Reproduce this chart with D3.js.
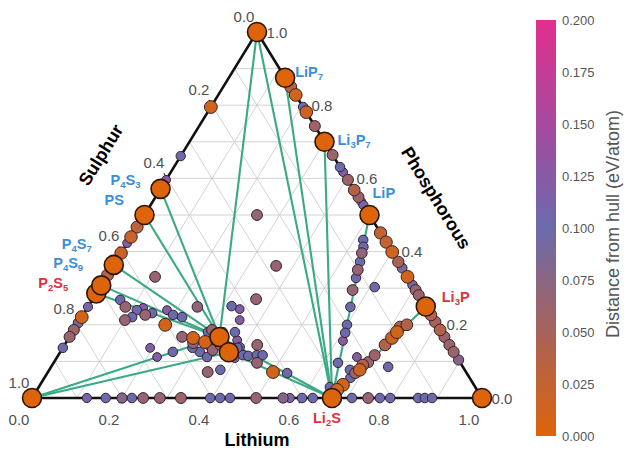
<!DOCTYPE html>
<html lang="en">
<head>
<meta charset="UTF-8">
<title>Li-P-S phase diagram</title>
<script src="https://cdnjs.cloudflare.com/ajax/libs/d3/7.8.5/d3.min.js"></script>
<style>
    html, body { margin: 0; padding: 0; background: #fff; }
    svg { display: block; font-family: "Liberation Sans", Arial, sans-serif; }
</style>
</head>
<body>
<div id="chart"></div>
<script>
// compositions are [Li, P] fractions, S = 1 - Li - P

// phases on the hull
const stableNames = ["P", "LiP7", "Li3P7", "LiP", "Li3P", "Li", "Li2S", "S", "P2S5", "P4S9", "P4S7", "PS", "P4S3", "Li4P2S6", "Li3PS4"];
const stableLi = [0, 0.125, 0.3, 0.5, 0.75, 1, 0.6667, 0, 0, 0, 0, 0, 0, 0.3333, 0.375];
const stableP  = [1, 0.875, 0.7, 0.5, 0.25, 0, 0, 0, 0.2857, 0.3077, 0.3636, 0.5, 0.5714, 0.1667, 0.125];

// tie lines between hull phases
const tieLines = [
    ["P", "Li4P2S6"], ["P", "Li2S"], ["LiP7", "Li2S"], ["Li3P7", "Li2S"], ["LiP", "Li2S"], ["Li3P", "Li2S"],
    ["P4S3", "Li4P2S6"], ["PS", "Li4P2S6"], ["P4S7", "Li4P2S6"], ["P4S9", "Li4P2S6"], ["P2S5", "Li4P2S6"],
    ["S", "Li4P2S6"], ["S", "Li3PS4"], ["Li4P2S6", "Li2S"], ["Li3PS4", "Li2S"], ["Li4P2S6", "Li3PS4"]
];

// S-P edge (Li = 0): P fraction and distance from hull
const spEdgeP = [0.795, 0.661, 0.596, 0.467, 0.44, 0.423, 0.396, 0.336, 0.249, 0.221, 0.205, 0.186, 0.167, 0.137];
const spEdgeE = [0.012, 0.105, 0.12, 0.03, 0.02, 0.12, 0.02, 0.035, 0.11, 0.01, 0.09, 0.06, 0.06, 0.1];

// Li-P edge (S = 0)
const lpEdgeP = [0.85, 0.828, 0.795, 0.781, 0.743, 0.664, 0.631, 0.617, 0.596, 0.568, 0.549, 0.536, 0.527,
    0.451, 0.426, 0.399, 0.372, 0.355, 0.331, 0.309, 0.295, 0.281, 0.227, 0.208, 0.186, 0.167, 0.145, 0.126, 0.104];
const lpEdgeE = [0.035, 0.012, 0.1, 0.015, 0.06, 0.06, 0.1, 0.12, 0.06, 0.04, 0.06, 0.12, 0.11,
    0.025, 0.025, 0.012, 0.05, 0.09, 0.012, 0.1, 0.06, 0.06, 0.04, 0.05, 0.04, 0.06, 0.06, 0.06, 0.08];

// Li-S edge (P = 0): Li fraction
const lsEdgeLi = [0.122, 0.164, 0.2, 0.222, 0.247, 0.284, 0.331, 0.396, 0.418, 0.44, 0.498, 0.558, 0.573,
    0.6, 0.624, 0.711, 0.747, 0.773, 0.796, 0.858, 0.873, 0.889];
const lsEdgeE = [0.11, 0.1, 0.08, 0.1, 0.065, 0.065, 0.06, 0.1, 0.1, 0.1, 0.065, 0.08, 0.11,
    0.1, 0.1, 0.1, 0.065, 0.1, 0.1, 0.1, 0.1, 0.1];

// ternary interior
const innerLi = [0.667, 0.673, 0.68, 0.684, 0.69, 0.69, 0.698, 0.703, 0.712, 0.718, 0.721, 0.721, 0.733,
    0.647, 0.632, 0.668, 0.666, 0.749, 0.61,
    0.52, 0.53, 0.535, 0.543, 0.549, 0.556, 0.565, 0.583, 0.6, 0.607, 0.613,
    0.25, 0.362, 0.363,
    0.108, 0.062, 0.083, 0.113, 0.124, 0.138, 0.151, 0.1, 0.112, 0.18, 0.2, 0.223, 0.196, 0.243, 0.25, 0.194, 0.222, 0.25, 0.283,
    0.318, 0.34, 0.355, 0.301, 0.361, 0.377, 0.392, 0.41, 0.423, 0.441, 0.454, 0.428, 0.452, 0.5, 0.533, 0.355, 0.38,
    0.31, 0.333, 0.276, 0.308, 0.288, 0.319, 0.336, 0.346, 0.396, 0.388, 0.307, 0.334];
const innerP = [0.022, 0.036, 0.055, 0.068, 0.077, 0.09, 0.098, 0.117, 0.145, 0.164, 0.18, 0.194, 0.2,
    0.03, 0.096, 0.077, 0.112, 0.085, 0.303,
    0.432, 0.413, 0.396, 0.372, 0.35, 0.328, 0.295, 0.249, 0.2, 0.178, 0.156,
    0.5, 0.361, 0.27,
    0.331, 0.268, 0.249, 0.24, 0.246, 0.227, 0.232, 0.213, 0.221, 0.24, 0.227, 0.221, 0.2, 0.249, 0.167, 0.137, 0.112, 0.126, 0.15,
    0.251, 0.243, 0.213, 0.18, 0.18, 0.158, 0.139, 0.117, 0.115, 0.117, 0.117, 0.145, 0.096, 0.071, 0.068, 0.071, 0.077,
    0.126, 0.112, 0.164, 0.153, 0.137, 0.145, 0.131, 0.145, 0.109, 0.137, 0.186, 0.18];
const innerE = [0.008, 0.01, 0.1, 0.06, 0.015, 0.04, 0.06, 0.06, 0.04, 0.015, 0.01, 0.04, 0.04,
    0.1, 0.1, 0.1, 0.12, 0.1, 0.1,
    0.1, 0.1, 0.07, 0.1, 0.065, 0.1, 0.065, 0.1, 0.1, 0.1, 0.12,
    0.065, 0.065, 0.065,
    0.065, 0.1, 0.065, 0.1, 0.12, 0.065, 0.1, 0.065, 0.1, 0.12, 0.1, 0.1, 0.01, 0.07, 0.065, 0.12, 0.12, 0.1, 0.065,
    0.1, 0.12, 0.12, 0.1, 0.1, 0.12, 0.1, 0.1, 0.1, 0.1, 0.1, 0.065, 0.065, 0.01, 0.1, 0.065, 0.1,
    0.1, 0.1, 0.01, 0.01, 0.1, 0.1, 0.065, 0.065, 0.12, 0.1, 0.065, 0.1];

// labelled phases
const blueLabels = ["LiP7", "Li3P7", "LiP", "P4S3", "PS", "P4S7", "P4S9"];
const redLabels = ["Li3P", "Li2S", "P2S5"];

const axisTicks = [0, 0.2, 0.4, 0.6, 0.8, 1.0];
const hullTicks = [0, 0.025, 0.05, 0.075, 0.1, 0.125, 0.15, 0.175, 0.2];

// ---- layout ----
const W = 633, H = 459;
const svg = d3.select("#chart").append("svg").attr("width", W).attr("height", H);

const x = d3.scaleLinear().domain([0, 1]).range([32, 482]);
const y = d3.scaleLinear().domain([0, 1]).range([398, 32]);
const px = (li, p) => x(li + p / 2);
const py = (li, p) => y(p);

const color = d3.scaleLinear()
    .domain([0, 0.05, 0.1, 0.15, 0.2])
    .range(["#dd640a", "#a8625a", "#6b6aac", "#a64a9e", "#e22e8c"])
    .clamp(true);
const radius = d3.scaleLinear().domain([0, 0.12]).range([6.6, 4.4]).clamp(true);

const stable = {};
stableNames.forEach((n, i) => stable[n] = [stableLi[i], stableP[i]]);

// grid
const grid = svg.append("g").attr("stroke", "#cdcdcd").attr("stroke-width", 0.9);
d3.range(1, 10).map(k => k / 10).forEach(v => {
    [[[0, v], [1 - v, v]], [[v, 0], [v, 1 - v]], [[1 - v, 0], [0, 1 - v]]].forEach(([a, b]) => {
        grid.append("line")
            .attr("x1", px(...a)).attr("y1", py(...a))
            .attr("x2", px(...b)).attr("y2", py(...b));
    });
});

// triangle
const corners = [[0, 1], [0, 0], [1, 0]];
svg.append("path")
    .attr("d", "M" + corners.map(c => px(...c) + "," + py(...c)).join("L") + "Z")
    .attr("fill", "none").attr("stroke", "#111").attr("stroke-width", 2.6)
    .attr("stroke-linejoin", "round");

// ticks + tick labels
const tickG = svg.append("g").attr("font-size", 15).attr("fill", "#505050").attr("text-anchor", "middle");
const axes = [
    { at: v => [v, 0], dir: [-0.52, 0.85], off: [-13, 21] },      // lithium, bottom
    { at: v => [0, 1 - v], dir: [-0.52, -0.85], off: [-13, -16] }, // sulphur, left
    { at: v => [1 - v, v], dir: [1, 0], off: [20, 0] }             // phosphorous, right
];
axes.forEach(a => {
    axisTicks.forEach(v => {
        const c = a.at(v), cx = px(...c), cy = py(...c);
        tickG.append("line")
            .attr("x1", cx).attr("y1", cy)
            .attr("x2", cx + a.dir[0] * 6).attr("y2", cy + a.dir[1] * 6)
            .attr("stroke", "#333").attr("stroke-width", 1.2);
        tickG.append("text")
            .attr("x", cx + a.off[0]).attr("y", cy + a.off[1])
            .attr("dominant-baseline", "central")
            .text(v.toFixed(1));
    });
});

// tie lines
svg.append("g").selectAll("line").data(tieLines).enter().append("line")
    .attr("x1", d => px(...stable[d[0]])).attr("y1", d => py(...stable[d[0]]))
    .attr("x2", d => px(...stable[d[1]])).attr("y2", d => py(...stable[d[1]]))
    .attr("stroke", "#3aaa86").attr("stroke-width", 2.1);

// computed structures
const pts = [];
spEdgeP.forEach((p, i) => pts.push({ li: 0, p: p, e: spEdgeE[i] }));
lpEdgeP.forEach((p, i) => pts.push({ li: 1 - p, p: p, e: lpEdgeE[i] }));
lsEdgeLi.forEach((li, i) => pts.push({ li: li, p: 0, e: lsEdgeE[i] }));
innerLi.forEach((li, i) => pts.push({ li: li, p: innerP[i], e: innerE[i] }));
pts.sort((a, b) => b.e - a.e);

svg.append("g").selectAll("circle").data(pts).enter().append("circle")
    .attr("cx", d => px(d.li, d.p)).attr("cy", d => py(d.li, d.p))
    .attr("r", d => radius(d.e))
    .attr("fill", d => color(d.e))
    .attr("stroke", "#35252a").attr("stroke-width", 1);

svg.append("g").selectAll("circle").data(stableNames).enter().append("circle")
    .attr("cx", d => px(...stable[d])).attr("cy", d => py(...stable[d]))
    .attr("r", 9.5)
    .attr("fill", color(0))
    .attr("stroke", "#2a1606").attr("stroke-width", 1.6);

// phase labels
const labelOffset = {
    LiP7: [10, -6], Li3P7: [13, -2], LiP: [3, -22], Li3P: [16, -10], Li2S: [-19, 20],
    P4S3: [-50, -9], PS: [-40, -15], P4S7: [-52, -21], P4S9: [-48, -22], P2S5: [-58, -10]
};
function formula(sel, name) {
    let sub = false;
    name.match(/[A-Za-z]+|\d+/g).forEach(part => {
        const isSub = /\d/.test(part);
        const t = sel.append("tspan").text(part);
        if (isSub && !sub) t.attr("dy", 3);
        if (!isSub && sub) t.attr("dy", -3);
        if (isSub) t.attr("font-size", 9.5);
        sub = isSub;
    });
}
blueLabels.concat(redLabels).forEach(n => {
    const c = stable[n], o = labelOffset[n];
    const t = svg.append("text")
        .attr("x", px(...c) + o[0]).attr("y", py(...c) + o[1] + 5)
        .attr("font-size", 14.5).attr("font-weight", "bold")
        .attr("fill", redLabels.includes(n) ? "#e0303c" : "#3a8edb");
    formula(t, n);
});

// axis titles
const edgeAngle = Math.atan2(y(1) - y(0), x(0.5) - x(0)) * 180 / Math.PI;
svg.append("text").attr("transform", `translate(101,155) rotate(${edgeAngle})`)
    .attr("text-anchor", "middle").attr("dominant-baseline", "central")
    .attr("font-size", 18).attr("font-weight", "bold").text("Sulphur");
svg.append("text").attr("transform", `translate(436,198) rotate(${-edgeAngle})`)
    .attr("text-anchor", "middle").attr("dominant-baseline", "central")
    .attr("font-size", 18).attr("font-weight", "bold").text("Phosphorous");
svg.append("text").attr("x", 257).attr("y", 440)
    .attr("text-anchor", "middle").attr("dominant-baseline", "central")
    .attr("font-size", 18).attr("font-weight", "bold").text("Lithium");

// colour bar
const cb = d3.scaleLinear().domain([0, 0.2]).range([436, 20]);
const grad = svg.append("defs").append("linearGradient").attr("id", "hullgrad")
    .attr("x1", 0).attr("y1", 1).attr("x2", 0).attr("y2", 0);
d3.range(0, 1.0001, 0.05).forEach(t => {
    grad.append("stop").attr("offset", t).attr("stop-color", color(t * 0.2));
});
svg.append("rect").attr("x", 536).attr("y", cb(0.2)).attr("width", 20)
    .attr("height", cb(0) - cb(0.2)).attr("fill", "url(#hullgrad)");
const cbAxis = svg.append("g").attr("transform", "translate(556,0)")
    .call(d3.axisRight(cb).tickValues(hullTicks).tickSize(0).tickPadding(6).tickFormat(d3.format(".3f")));
cbAxis.select(".domain").remove();
cbAxis.selectAll("text").attr("font-size", 13).attr("fill", "#555")
    .attr("font-family", "Liberation Sans, Arial, sans-serif");
svg.append("text").attr("transform", "translate(613,224) rotate(-90)")
    .attr("text-anchor", "middle").attr("dominant-baseline", "central")
    .attr("font-size", 18).attr("fill", "#555")
    .text("Distance from hull (eV/atom)");
</script>
</body>
</html>
